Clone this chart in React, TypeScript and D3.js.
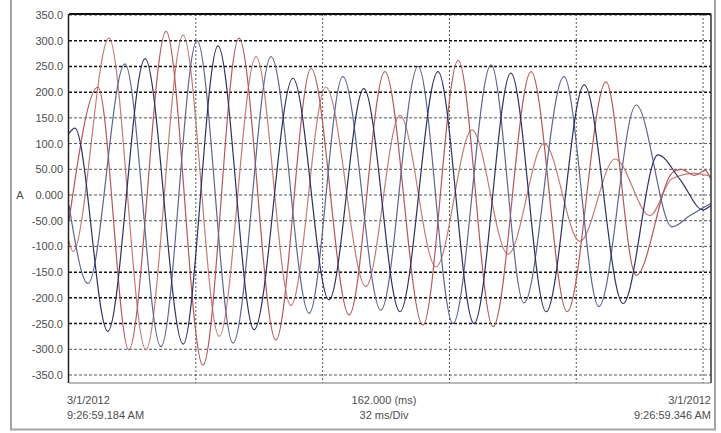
import React from "react";
import * as d3 from "d3";

// ---- data (time in ms from 9:26:59.184, current in A) ----
const r1T = [0, 7.3, 15.1, 24.5, 33.8, 42.9, 52.2, 61.1, 70.7, 79.7, 89.3, 98.2, 107.0, 116.6, 125.7, 135.5, 143.1, 152.2, 154.5, 157.9, 160.5, 162];
const r1V = [-50, 210, -301, 318, -331, 305, -282, 246, -233, 240, -253, 262, -256, 240, -227, 220, -156, 43, 50, 38, 48, 30];

const r2T = [0, 1.0, 10.1, 19.4, 28.8, 37.9, 47.2, 56.0, 64.8, 74.9, 83.5, 92.6, 101.7, 110.8, 119.9, 128.9, 137.8, 146.6, 152.2, 157.9, 162];
const r2V = [-90, -110, 305, -301, 311, -275, 269, -215, 210, -178, 155, -140, 126, -115, 100, -90, 70, -40, 32, 42, 36];

const b1T = [0, 4.8, 14.1, 23.2, 32.3, 41.4, 51.0, 60.6, 69.1, 78.7, 88.1, 96.9, 106.5, 114.8, 124.9, 133.7, 143.1, 152.2, 156.7, 162];
const b1V = [-20, -172, 255, -295, 300, -288, 269, -230, 230, -224, 250, -250, 253, -210, 230, -217, 175, -62, -40, -16];

const b2T = [0, 1.5, 9.8, 19.2, 28.8, 37.6, 46.7, 56.5, 65.6, 74.4, 83.5, 93.1, 102.2, 111.5, 120.4, 130.0, 139.8, 148.6, 154.2, 160.0, 162];
const b2V = [120, 130, -265, 265, -290, 290, -262, 227, -204, 207, -227, 240, -250, 237, -227, 214, -211, 78, 30, -29, -20];

const yTicks = [350, 300, 250, 200, 150, 100, 50, 0, -50, -100, -150, -200, -250, -300, -350];
const yTickLabels = ["350.0", "300.0", "250.0", "200.0", "150.0", "100.0", "50.00", "0.000", "-50.00", "-100.0", "-150.0", "-200.0", "-250.0", "-300.0", "-350.0"];
const boldGrid = [300, 250, 200, -150, -200, -250];
const xGridMs = [32, 64, 96, 128, 160];

const series = [
  { t: r2T, v: r2V, color: "#c47a76" },
  { t: r1T, v: r1V, color: "#b3575a" },
  { t: b1T, v: b1V, color: "#5d6590" },
  { t: b2T, v: b2V, color: "#2c3060" },
];

const W = 721;
const H = 433;
const PL = 69, PR = 711, PT = 14, PB = 383;

export default function App() {
  const x = d3.scaleLinear().domain([0, 162]).range([PL, PR]);
  const y = d3.scaleLinear().domain([-350, 350]).range([375, 15]);
  const line = d3
    .line<[number, number]>()
    .x((d) => x(d[0]))
    .y((d) => y(d[1]))
    .curve(d3.curveMonotoneX);

  const font = "'Liberation Sans', Arial, sans-serif";
  const txt = "#4d4d4d";

  return (
    <svg
      width={W}
      height={H}
      style={{ position: "absolute", left: 0, top: 0, background: "#fff" }}
    >
      <defs>
        <clipPath id="plot">
          <rect x={PL} y={PT} width={PR - PL} height={PB - PT} />
        </clipPath>
      </defs>
      {/* outer frame */}
      <path d={`M11,-2 V429.5 H715 V-2`} fill="none" stroke="#a3a3a3" strokeWidth={2} />
      <rect x={PL} y={PT} width={PR - PL} height={PB - PT} fill="#fff" />

      {/* horizontal grid */}
      {yTicks.map((v) => {
        const bold = boldGrid.includes(v);
        return (
          <line
            key={"h" + v}
            x1={PL}
            x2={PR}
            y1={y(v)}
            y2={y(v)}
            stroke={bold ? "#111" : "#555"}
            strokeWidth={bold ? 1.5 : 1}
            strokeDasharray="3,2"
          />
        );
      })}
      {/* vertical grid */}
      {xGridMs.map((t) => (
        <line
          key={"v" + t}
          x1={x(t)}
          x2={x(t)}
          y1={PT}
          y2={PB}
          stroke="#555"
          strokeWidth={1}
          strokeDasharray="2,2"
        />
      ))}

      {/* waveforms */}
      <g clipPath="url(#plot)">
        {series.map((s, i) => (
          <path
            key={i}
            d={line(s.t.map((t, j) => [t, s.v[j]] as [number, number])) || ""}
            fill="none"
            stroke={s.color}
            strokeWidth={1.2}
          />
        ))}
      </g>

      {/* plot border */}
      <line x1={PL} x2={PR} y1={PT} y2={PT} stroke="#111" strokeWidth={2} />
      <line x1={PL - 0.5} x2={PL - 0.5} y1={PT} y2={PB} stroke="#222" strokeWidth={1.5} />
      <line x1={PR} x2={PR} y1={PT} y2={PB} stroke="#333" strokeWidth={1.5} />
      <line x1={PL} x2={PR} y1={PB} y2={PB} stroke="#777" strokeWidth={1.2} />

      {/* y tick labels */}
      {yTicks.map((v, i) => (
        <text
          key={"t" + v}
          x={63}
          y={y(v) + 4}
          textAnchor="end"
          fontFamily={font}
          fontSize={11}
          fill={txt}
        >
          {yTickLabels[i]}
        </text>
      ))}
      <text x={20} y={y(0) + 4} textAnchor="middle" fontFamily={font} fontSize={11} fill={txt}>
        A
      </text>

      {/* bottom labels */}
      <text x={67} y={404} fontFamily={font} fontSize={11} fill={txt}>3/1/2012</text>
      <text x={67} y={419} fontFamily={font} fontSize={11} fill={txt}>9:26:59.184 AM</text>
      <text x={384} y={404} textAnchor="middle" fontFamily={font} fontSize={11} fill={txt}>162.000 (ms)</text>
      <text x={384} y={419} textAnchor="middle" fontFamily={font} fontSize={11} fill={txt}>32 ms/Div</text>
      <text x={711} y={404} textAnchor="end" fontFamily={font} fontSize={11} fill={txt}>3/1/2012</text>
      <text x={711} y={419} textAnchor="end" fontFamily={font} fontSize={11} fill={txt}>9:26:59.346 AM</text>
    </svg>
  );
}
